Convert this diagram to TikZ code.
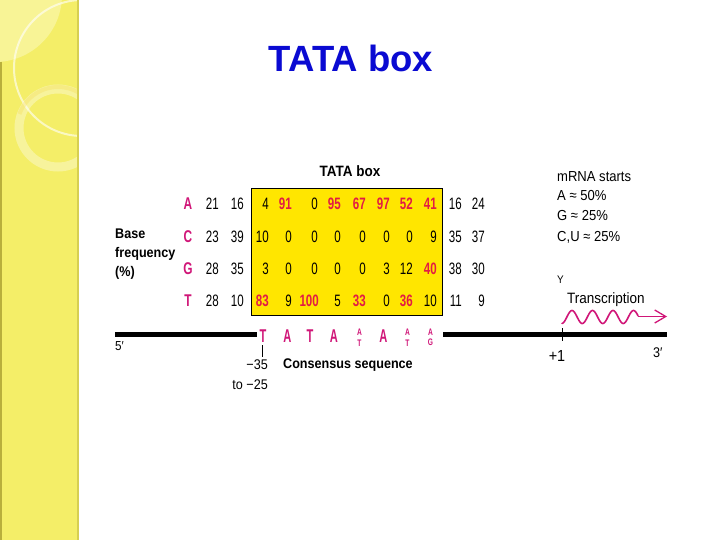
\documentclass[tikz,border=0pt]{standalone}
\usepackage{fontspec}
\setmainfont{Liberation Sans}
\newfontfamily\cf[FakeStretch=0.9]{Liberation Sans}
\newfontfamily\nf[FakeStretch=0.7]{Liberation Sans}
\newfontfamily\ccf[FakeStretch=0.6]{Liberation Sans}
\usetikzlibrary{arrows.meta}
\definecolor{stripe}{RGB}{244,238,104}
\definecolor{stripelight}{RGB}{248,244,150}
\definecolor{stripeedge}{RGB}{185,175,60}
\definecolor{boxyellow}{RGB}{255,230,0}
\definecolor{numred}{RGB}{226,28,68}
\definecolor{basemag}{RGB}{208,22,120}
\definecolor{titleblue}{RGB}{10,10,210}
\tikzset{
  numk/.style={anchor=base east, inner sep=0pt, font=\nf\fontsize{16.5}{16.5}\selectfont, text=black},
  numr/.style={anchor=base east, inner sep=0pt, font=\nf\bfseries\fontsize{16.5}{16.5}\selectfont, text=numred},
  basel/.style={anchor=base, inner sep=0pt, font=\nf\bfseries\fontsize{17}{17}\selectfont, text=basemag},
  cons/.style={anchor=base, inner sep=0pt, font=\ccf\bfseries\fontsize{18.5}{18.5}\selectfont, text=basemag},
  conss/.style={anchor=center, inner sep=0pt, align=center, font=\nf\bfseries\fontsize{9.5}{10.7}\selectfont, text=basemag},
  lbl/.style={anchor=base west, inner sep=0pt, font=\cf\fontsize{14.5}{14.5}\selectfont},
  blbl/.style={anchor=base west, inner sep=0pt, font=\cf\bfseries\fontsize{14}{14}\selectfont},
  dna/.style={line width=4.5pt, black},
  tick/.style={line width=0.8pt, black},
}
\begin{document}
\begin{tikzpicture}[x=1pt,y=-1pt]
\useasboundingbox (0,0) rectangle (720,540);
\fill[white] (0,0) rectangle (720,540);
% left stripe
\begin{scope}
\clip (0,0) rectangle (78,540);
\fill[stripe] (0,0) rectangle (78,540);
\fill[stripelight] (-5,-5) circle[radius=67];
\draw[white, opacity=0.6, line width=2pt] (82,68) circle[radius=68];
\draw[white, opacity=0.35, line width=9pt] (58,128) circle[radius=39];
\draw[stripe!85!orange, opacity=0.35, line width=4pt] (58,128) ++(200:41) arc[start angle=200, end angle=330, radius=41];
\end{scope}
\fill[stripeedge] (0,62) rectangle (2,540);
\fill[stripeedge!50!stripe] (76.5,0) rectangle (78.5,540);
% title
\node[anchor=base, inner sep=0pt, font=\bfseries\fontsize{36.5}{36.5}\selectfont, text=titleblue] (title) at (351,72) {TATA box};
% yellow box
\node[draw=black, line width=1.3pt, fill=boxyellow, minimum width=191pt, minimum height=127pt, inner sep=0pt] (box) at (347.2,251.7) {};
\node[anchor=base, inner sep=0pt, font=\cf\bfseries\fontsize{15}{15}\selectfont] (boxlbl) at (350,177) {TATA box};
% row letters
\node[basel] (rA) at (188,210) {A};
\node[basel] (rC) at (188,242) {C};
\node[basel] (rG) at (188,274) {G};
\node[basel] (rT) at (188,306) {T};
% numbers
\foreach \v/\x/\s [count=\i] in {21/219/numk,16/244/numk,4/269/numk,91/292/numr,0/318/numk,95/341/numr,67/366/numr,97/390/numr,52/413/numr,41/437/numr,16/462/numk,24/485/numk}
  \node[\s] (a\i) at (\x,210) {\v};
\foreach \v/\x/\s [count=\i] in {23/219/numk,39/244/numk,10/269/numk,0/292/numk,0/318/numk,0/341/numk,0/366/numk,0/390/numk,0/413/numk,9/437/numk,35/462/numk,37/485/numk}
  \node[\s] (c\i) at (\x,242) {\v};
\foreach \v/\x/\s [count=\i] in {28/219/numk,35/244/numk,3/269/numk,0/292/numk,0/318/numk,0/341/numk,0/366/numk,3/390/numk,12/413/numk,40/437/numr,38/462/numk,30/485/numk}
  \node[\s] (g\i) at (\x,274) {\v};
\foreach \v/\x/\s [count=\i] in {28/219/numk,10/244/numk,83/269/numr,9/292/numk,100/319/numr,5/341/numk,33/366/numr,0/390/numk,36/413/numr,10/437/numk,11/462/numk,9/485/numk}
  \node[\s] (t\i) at (\x,306) {\v};
% base frequency label
\node[blbl] (bf1) at (115,238) {Base};
\node[blbl] (bf2) at (115,257) {frequency};
\node[blbl] (bf3) at (115,276) {(\%)};
% DNA line
\coordinate (l0) at (115,334.5);
\coordinate (l1) at (257,334.5);
\coordinate (r0) at (443,334.5);
\coordinate (r1) at (667,334.5);
\draw[dna] (l0) -- (l1);
\draw[dna] (r0) -- (r1);
% consensus
\node[cons] (s1) at (263,342) {T};
\node[cons] (s2) at (287.5,342) {A};
\node[cons] (s3) at (310,342) {T};
\node[cons] (s4) at (334,342) {A};
\node[conss] (s5) at (359.5,337.4) {A\\T};
\node[cons] (s6) at (383.5,342) {A};
\node[conss] (s7) at (407.5,337.4) {A\\T};
\node[conss] (s8) at (430.5,337.4) {A\\G};
\coordinate (k0) at (262,345);
\coordinate (k1) at (262,357);
\draw[tick] (k0) -- (k1);
\node[anchor=base east, inner sep=0pt, font=\cf\fontsize{14}{14}\selectfont] (m35) at (268,369) {−35};
\node[anchor=base east, inner sep=0pt, font=\cf\fontsize{14}{14}\selectfont] (m25) at (268,389) {to −25};
\node[blbl] (cs) at (283,368) {Consensus sequence};
\node[anchor=base west, inner sep=0pt, font=\cf\fontsize{13}{13}\selectfont] (five) at (115,350) {5′};
% right side
\node[lbl] (mr1) at (557,182) {mRNA starts};
\node[lbl] (mr2) at (557,201) {A ≈ 50\%};
\node[lbl] (mr3) at (557,221) {G ≈ 25\%};
\node[lbl] (mr4) at (557,241) {C,U ≈ 25\%};
\node[anchor=base west, inner sep=0pt, font=\cf\fontsize{11}{11}\selectfont] (yy) at (557,283) {Y};
\node[anchor=base west, inner sep=0pt, font=\cf\fontsize{15}{15}\selectfont] (tr) at (567,303) {Transcription};
\coordinate (p0) at (562,328);
\coordinate (p1) at (562,341);
\draw[tick] (p0) -- (p1);
\node[anchor=base, inner sep=0pt, font=\cf\fontsize{16}{16}\selectfont] (plus) at (557,361) {+1};
\node[anchor=base west, inner sep=0pt, font=\cf\fontsize{14}{14}\selectfont] (three) at (653,357) {3′};
% wavy transcription arrow
\coordinate (w1) at (638,316.5);
\coordinate (w2) at (667,316.5);
\draw[basemag, line width=1.6pt, line cap=round, domain=562:638, samples=150, smooth] plot ({\x},{317-6.5*cos((\x-572)*17.56)});
\draw[basemag, line width=1.3pt, -{Straight Barb[length=11pt,width=13pt,line width=1.3pt]}] (w1) -- (w2);
\end{tikzpicture}
\end{document}
